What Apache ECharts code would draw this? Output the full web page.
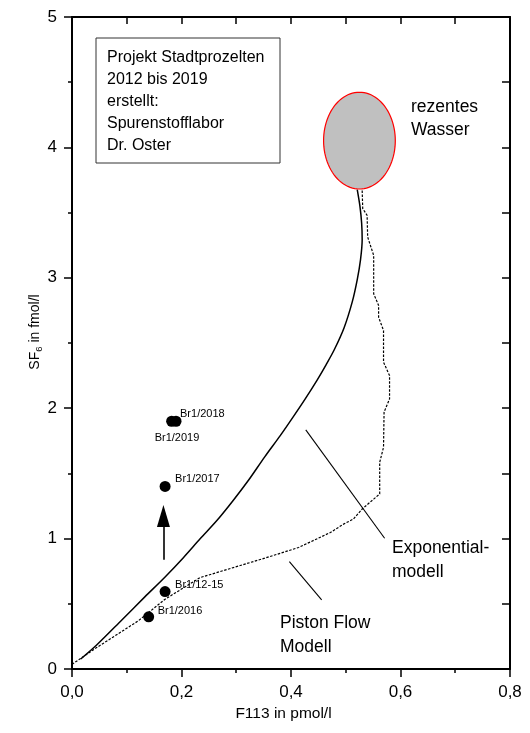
<!DOCTYPE html>
<html>
<head>
<meta charset="utf-8">
<script src="https://cdn.jsdelivr.net/npm/echarts@6/dist/echarts.min.js"></script>
<style>
  html, body { margin: 0; padding: 0; background: #fff; }
  #chart { width: 530px; height: 733px; }
</style>
</head>
<body>
<div id="chart"></div>
<script>
// Exponentialmodell (durchgezogen)
const expModel = [
  [0.016, 0.077], [0.045, 0.184], [0.091, 0.376], [0.133, 0.553], [0.170, 0.706],
  [0.203, 0.852], [0.234, 0.998], [0.265, 1.140], [0.294, 1.290], [0.323, 1.451],
  [0.352, 1.627], [0.380, 1.788], [0.404, 1.934], [0.426, 2.072], [0.448, 2.218],
  [0.464, 2.333], [0.479, 2.448], [0.497, 2.617], [0.512, 2.817], [0.521, 2.986],
  [0.527, 3.139], [0.530, 3.293], [0.529, 3.420], [0.526, 3.546], [0.521, 3.676]
]
// Piston Flow Modell (gestrichelt)
const pistonModel = [
  [0.000, 0.036], [0.045, 0.164], [0.121, 0.369], [0.170, 0.535], [0.234, 0.701],
  [0.352, 0.850], [0.414, 0.932], [0.472, 1.047], [0.496, 1.111], [0.514, 1.150],
  [0.530, 1.227], [0.551, 1.303], [0.562, 1.342], [0.562, 1.585], [0.569, 1.700],
  [0.570, 1.970], [0.580, 2.071], [0.580, 2.250], [0.569, 2.353], [0.569, 2.596],
  [0.560, 2.698], [0.560, 2.788], [0.551, 2.878], [0.551, 3.172], [0.540, 3.313],
  [0.539, 3.479], [0.531, 3.531], [0.530, 3.671]
]
// Messpunkte Br1
const sampleNames = ['Br1/2018', 'Br1/2019', 'Br1/2017', 'Br1/12-15', 'Br1/2016']
const sampleX = [0.190, 0.182, 0.170, 0.170, 0.140]
const sampleY = [1.90, 1.90, 1.40, 0.594, 0.40]
// Label-Versatz in px (dx, dy)
const labelOffsets = [[4, -7], [-17, 17], [10, -7], [10, -7], [9, -6]]
// rezentes Wasser: Mittelpunkt x, y, Halbachsen rx, ry
const recentWater = [0.525, 4.052, 0.0655, 0.371]
// Pfeil und Zeigerlinien
const arrowLine = [[0.167, 0.837], [0.167, 1.174]]
const expPointer = [[0.427, 1.834], [0.571, 1.003]]
const pistonPointer = [[0.397, 0.823], [0.456, 0.530]]

const FONT = "'Liberation Sans', Arial, sans-serif"
const chart = echarts.init(document.getElementById('chart'))

const scatterData = sampleNames.map((n, i) => ({
  name: n,
  value: [sampleX[i], sampleY[i]],
  label: {
    show: true,
    position: 'inside',
    align: 'left',
    verticalAlign: 'middle',
    offset: labelOffsets[i],
    formatter: n,
    fontSize: 11,
    fontFamily: FONT,
    color: '#000'
  }
}))

const option = {
  animation: false,
  backgroundColor: '#fff',
  textStyle: { fontFamily: FONT },
  grid: { left: 72, right: 20, top: 17, bottom: 64 },
  xAxis: [{
    type: 'value', min: 0, max: 0.8, interval: 0.2, position: 'bottom',
    name: 'F113 in pmol/l', nameLocation: 'middle', nameGap: 37,
    nameTextStyle: { fontSize: 15.5, color: '#000', fontFamily: FONT, padding: [0, 15, 0, 0] },
    axisLine: { show: true, onZero: false, lineStyle: { color: '#000', width: 2 } },
    axisTick: { show: true, inside: false, length: 8, lineStyle: { color: '#000', width: 1.5 } },
    minorTick: { show: true, splitNumber: 2, length: 4, lineStyle: { color: '#000', width: 1.5 } },
    axisLabel: { fontSize: 17, color: '#000', margin: 15, formatter: v => v.toFixed(1).replace('.', ',') },
    splitLine: { show: false }
  }, {
    type: 'value', min: 0, max: 0.8, interval: 0.1, position: 'top',
    axisLine: { show: true, onZero: false, lineStyle: { color: '#000', width: 2 } },
    axisTick: { show: true, inside: true, length: 7, lineStyle: { color: '#000', width: 1.5 } },
    axisLabel: { show: false },
    splitLine: { show: false }
  }],
  yAxis: [{
    type: 'value', min: 0, max: 5, interval: 1, position: 'left',
    name: '{a|SF}{b|6}{a| in fmol/l}', nameLocation: 'middle', nameGap: 28, nameRotate: 90,
    nameMoveOverlap: false,
    nameTextStyle: {
      padding: [0, 0, 0, 22],
      rich: {
        a: { fontSize: 14, color: '#000', fontFamily: FONT },
        b: { fontSize: 9.5, color: '#000', fontFamily: FONT, padding: [7, 0, 0, 0] }
      }
    },
    axisLine: { show: true, onZero: false, lineStyle: { color: '#000', width: 2 } },
    axisTick: { show: true, inside: false, length: 8, lineStyle: { color: '#000', width: 1.5 } },
    minorTick: { show: true, splitNumber: 2, length: 4, lineStyle: { color: '#000', width: 1.5 } },
    axisLabel: { fontSize: 17, color: '#000', margin: 15 },
    splitLine: { show: false }
  }, {
    type: 'value', min: 0, max: 5, interval: 0.5, position: 'right',
    axisLine: { show: true, onZero: false, lineStyle: { color: '#000', width: 2 } },
    axisTick: { show: true, inside: true, length: 8, lineStyle: { color: '#000', width: 1.5 } },
    axisLabel: { show: false },
    splitLine: { show: false }
  }],
  series: [{
    name: 'Exponentialmodell',
    type: 'line',
    data: expModel,
    smooth: 0.3,
    showSymbol: false,
    lineStyle: { color: '#000', width: 1.5 },
    z: 3
  }, {
    name: 'Piston Flow Modell',
    type: 'line',
    data: pistonModel,
    showSymbol: false,
    lineStyle: { color: '#000', width: 1.2, type: [2.5, 1.5] },
    z: 3,
    markLine: {
      silent: true,
      symbol: ['none', 'none'],
      label: { show: false },
      lineStyle: { color: '#000', width: 1.1, type: 'solid' },
      data: [
        [{ coord: expPointer[0] }, { coord: expPointer[1] }],
        [{ coord: pistonPointer[0] }, { coord: pistonPointer[1] }]
      ]
    }
  }, {
    name: 'rezentes Wasser',
    type: 'custom',
    data: [recentWater],
    z: 4,
    renderItem: function (params, api) {
      const cx = api.value(0), cy = api.value(1), rx = api.value(2), ry = api.value(3)
      const pts = []
      for (let k = 0; k < 96; k++) {
        const t = k / 96 * Math.PI * 2
        pts.push(api.coord([cx + rx * Math.cos(t), cy + ry * Math.sin(t)]))
      }
      return {
        type: 'polygon',
        shape: { points: pts },
        style: { fill: '#c0c0c0', stroke: '#ff0000', lineWidth: 1.2 }
      }
    }
  }, {
    name: 'Br1',
    type: 'scatter',
    data: scatterData,
    symbolSize: 11,
    itemStyle: { color: '#000', opacity: 1 },
    z: 5,
    markLine: {
      silent: true,
      symbol: ['none', 'triangle'],
      symbolSize: [13, 22],
      label: { show: false },
      lineStyle: { color: '#000', width: 1.6, type: 'solid' },
      itemStyle: { color: '#000' },
      data: [[{ coord: arrowLine[0] }, { coord: arrowLine[1] }]]
    }
  }],
  graphic: [{
    type: 'rect',
    shape: { x: 96, y: 38, width: 184, height: 125 },
    style: { fill: '#fff', stroke: '#333', lineWidth: 1 },
    z: 10
  }, {
    type: 'text', x: 107, y: 47, z: 11,
    style: {
      text: 'Projekt Stadtprozelten\n2012 bis 2019\nerstellt:\nSpurenstofflabor\nDr. Oster',
      font: '16px ' + FONT, fill: '#000', lineHeight: 21.8, verticalAlign: 'top'
    }
  }, {
    type: 'text', x: 411, y: 95, z: 11,
    style: { text: 'rezentes\nWasser', font: '17.5px ' + FONT, fill: '#000', lineHeight: 23.5, verticalAlign: 'top' }
  }, {
    type: 'text', x: 392, y: 536, z: 11,
    style: { text: 'Exponential-\nmodell', font: '17.5px ' + FONT, fill: '#000', lineHeight: 24, verticalAlign: 'top' }
  }, {
    type: 'text', x: 280, y: 611, z: 11,
    style: { text: 'Piston Flow\nModell', font: '17.5px ' + FONT, fill: '#000', lineHeight: 24, verticalAlign: 'top' }
  }]
}

chart.setOption(option)
</script>
</body>
</html>
